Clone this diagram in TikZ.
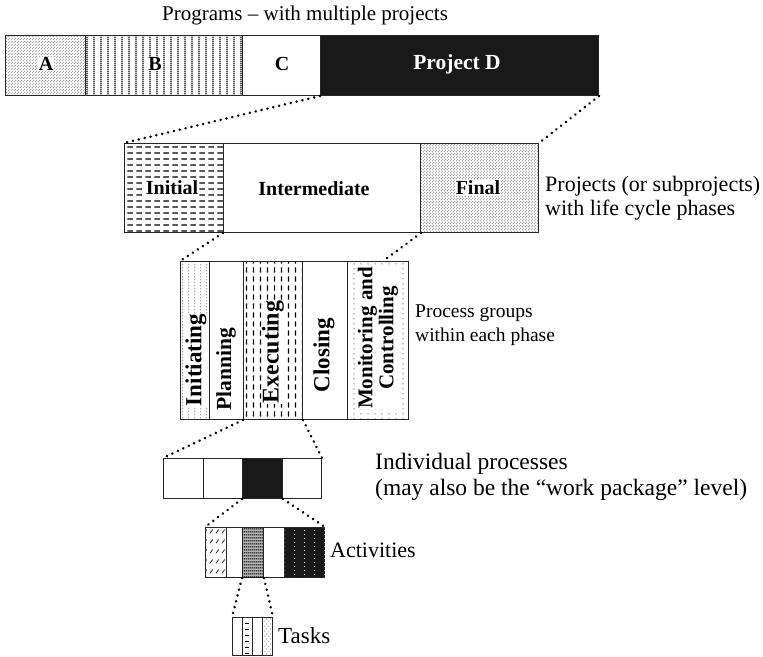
\documentclass[tikz,border=0pt]{standalone}
\usepackage{fontspec}
\setmainfont{Liberation Serif}
\usetikzlibrary{patterns}

\pgfdeclarepatternformonly{finedots}{\pgfpointorigin}{\pgfqpoint{3.4pt}{3.4pt}}{\pgfqpoint{3.4pt}{3.4pt}}{%
  \pgfpathcircle{\pgfqpoint{0.85pt}{0.85pt}}{0.5pt}%
  \pgfpathcircle{\pgfqpoint{2.55pt}{2.55pt}}{0.5pt}\pgfusepath{fill}}
\pgfdeclarepatternformonly{vlinesB}{\pgfpointorigin}{\pgfqpoint{6.5pt}{2pt}}{\pgfqpoint{6.5pt}{2pt}}{%
  \pgfpathrectangle{\pgfqpoint{2.6pt}{0pt}}{\pgfqpoint{1.3pt}{2pt}}\pgfusepath{fill}}
\pgfdeclarepatternformonly{hdashes}{\pgfpointorigin}{\pgfqpoint{9pt}{6.4pt}}{\pgfqpoint{9pt}{6.4pt}}{%
  \pgfpathrectangle{\pgfqpoint{1.5pt}{2.7pt}}{\pgfqpoint{6pt}{1.1pt}}\pgfusepath{fill}}
\pgfdeclarepatternformonly{vdashes}{\pgfpointorigin}{\pgfqpoint{7.4pt}{8.5pt}}{\pgfqpoint{7.4pt}{8.5pt}}{%
  \pgfpathrectangle{\pgfqpoint{3.2pt}{1.5pt}}{\pgfqpoint{1.1pt}{5.5pt}}\pgfusepath{fill}}
\pgfdeclarepatternformonly{vdotcols}{\pgfpointorigin}{\pgfqpoint{6pt}{3pt}}{\pgfqpoint{6pt}{3pt}}{%
  \pgfpathcircle{\pgfqpoint{3pt}{1.5pt}}{0.55pt}\pgfusepath{fill}}
\pgfdeclarepatternformonly{griddots}{\pgfpointorigin}{\pgfqpoint{6.5pt}{5pt}}{\pgfqpoint{6.5pt}{5pt}}{%
  \pgfpathcircle{\pgfqpoint{3.25pt}{2.5pt}}{0.6pt}\pgfusepath{fill}}
\pgfdeclarepatternformonly{diaghatch}{\pgfpointorigin}{\pgfqpoint{5.5pt}{10pt}}{\pgfqpoint{5.5pt}{10pt}}{%
  \pgfsetlinewidth{0.7pt}\pgfpathmoveto{\pgfqpoint{1pt}{3pt}}\pgfpathlineto{\pgfqpoint{4pt}{7pt}}\pgfusepath{stroke}}
\pgfdeclarepatternformonly{hlinesA}{\pgfpointorigin}{\pgfqpoint{2pt}{2.6pt}}{\pgfqpoint{2pt}{2.6pt}}{%
  \pgfpathrectangle{\pgfqpoint{0pt}{0.8pt}}{\pgfqpoint{2pt}{1pt}}\pgfusepath{fill}}
\pgfdeclarepatternformonly{whitedotcols}{\pgfpointorigin}{\pgfqpoint{10pt}{4pt}}{\pgfqpoint{10pt}{4pt}}{%
  \pgfpathcircle{\pgfqpoint{5pt}{2pt}}{0.6pt}\pgfusepath{fill}}
\pgfdeclarepatternformonly{taskdots}{\pgfpointorigin}{\pgfqpoint{4pt}{5pt}}{\pgfqpoint{4pt}{5pt}}{%
  \pgfpathcircle{\pgfqpoint{1pt}{1pt}}{0.5pt}%
  \pgfpathcircle{\pgfqpoint{3pt}{3.5pt}}{0.5pt}\pgfusepath{fill}}

\tikzset{
  box/.style={draw=black!85, line width=1pt, inner sep=0pt, anchor=north west, minimum height=#1},
  box/.default=60pt,
  dotline/.style={line width=2.8pt, dash pattern=on 0.01pt off 6pt, line cap=round, black},
  lbl/.style={font=\fontsize{20}{22}\selectfont\bfseries, inner sep=0.6pt},
  patlbl/.style={lbl, fill=white},
  rot/.style={inner sep=0.4pt, rotate=90, fill=white, align=center},
  rotfont/.style={font=\fontsize{#1}{#1}\selectfont\bfseries},
  side/.style={align=left, anchor=west, inner sep=0pt},
  sfont/.style={font=\fontsize{#1}{24}\selectfont},
}

\begin{document}
\begin{tikzpicture}[x=1pt, y=-1pt]
\useasboundingbox (0,0) rectangle (763,656);

% title
\node[sfont=21, inner sep=0pt] (title) at (305,15) {Programs – with multiple projects};

% programs row
\node[box, minimum width=80pt, pattern=finedots] (A) at (5,35) {};
\node[box, minimum width=157pt, pattern=vlinesB] (B) at (85,35) {};
\node[box, minimum width=78pt, fill=white] (C) at (242,35) {};
\node[box, minimum width=278pt, fill=black!90] (D) at (320,35) {};
\node[patlbl] (tA) at (46,64) {A};
\node[patlbl] (tB) at (155,64) {B};
\node[lbl] (tC) at (282,64) {C};
\node[lbl, font=\fontsize{21.5}{23}\selectfont\bfseries, text=white] (tD) at (457,64) {Project D};

% phases row
\node[box=89pt, minimum width=99pt, pattern=hdashes] (ini) at (124,143) {};
\node[box=89pt, minimum width=197pt] (inter) at (223,143) {};
\node[box=89pt, minimum width=118pt, pattern=finedots] (fin) at (420,143) {};
\node[patlbl] (tini) at (172,188) {Initial};
\node[lbl] (tinter) at (314,189) {Intermediate};
\node[patlbl] (tfin) at (478,188) {Final};
\node[side, sfont=22] (sphase) at (545,198) {Projects (or subprojects)\\with life cycle phases};

% process groups
\node[box=158pt, minimum width=29pt, pattern=vdotcols] (pg1) at (180,261) {};
\node[box=158pt, minimum width=34pt] (pg2) at (209,261) {};
\node[box=158pt, minimum width=59pt, pattern=vdashes] (pg3) at (243,261) {};
\node[box=158pt, minimum width=45pt] (pg4) at (302,261) {};
\node[box=158pt, minimum width=61pt, pattern=griddots] (pg5) at (347,261) {};
\node[rot, rotfont=23] (tpg1) at (196,360) {Initiating};
\node[rot, rotfont=21.5] (tpg2) at (226,369) {Planning};
\node[rot, rotfont=24] (tpg3) at (273,352) {Executing};
\node[rot, rotfont=23, fill=none] (tpg4) at (324,355) {Closing};
\node[rot, rotfont=21] (tpg5) at (378,338) {Monitoring and\\Controlling};
\node[side, sfont=19.5] (sgroup) at (415,325) {Process groups\\within each phase};
\coordinate (mcTop) at (383,261);

% individual processes
\node[box=40pt, minimum width=40pt] (p1) at (163,458) {};
\node[box=40pt, minimum width=39pt] (p2) at (203,458) {};
\node[box=40pt, minimum width=40pt, fill=black!90] (p3) at (242,458) {};
\node[box=40pt, minimum width=39pt] (p4) at (282,458) {};
\node[side, font=\fontsize{23.5}{26}\selectfont] (sproc) at (375,477) {Individual processes\\(may also be the “work package” level)};

% activities
\node[box=50pt, minimum width=21pt, pattern=diaghatch] (a1) at (205,527) {};
\node[box=50pt, minimum width=16pt] (a2) at (226,527) {};
\node[box=50pt, minimum width=21pt, fill=black!30, postaction={pattern=hlinesA}] (a3) at (242,527) {};
\node[box=50pt, minimum width=21pt] (a4) at (263,527) {};
\node[box=50pt, minimum width=40pt, fill=black!90, postaction={pattern=whitedotcols, pattern color=white}] (a5) at (284,527) {};
\node[side, sfont=22] (sact) at (330,550) {Activities};

% tasks
\node[box=38pt, minimum width=10pt] (t1) at (232,617) {};
\node[box=38pt, minimum width=10pt] (t2) at (242,617) {};
\node[box=38pt, minimum width=10pt] (t3) at (252,617) {};
\node[box=38pt, minimum width=10pt, pattern=taskdots] (t4) at (262,617) {};
\foreach \yy in {623,629,...,653} \draw[line width=0.9pt] (245,\yy) -- (249,\yy);
\node[side, sfont=23] (stask) at (278,636) {Tasks};

% dotted connectors
\draw[dotline] (D.south west) -- (ini.north west);
\draw[dotline] (D.south east) -- (fin.north east);
\draw[dotline] (inter.south west) -- (pg1.north west);
\draw[dotline] (inter.south east) -- (mcTop);
\draw[dotline] (pg3.south west) -- (p1.north west);
\draw[dotline] (pg3.south east) -- (p4.north east);
\draw[dotline] (p3.south west) -- (a1.north west);
\draw[dotline] (p3.south east) -- (a5.north east);
\draw[dotline] (a3.south west) -- (t1.north west);
\draw[dotline] (a3.south east) -- (t4.north east);
\end{tikzpicture}
\end{document}
